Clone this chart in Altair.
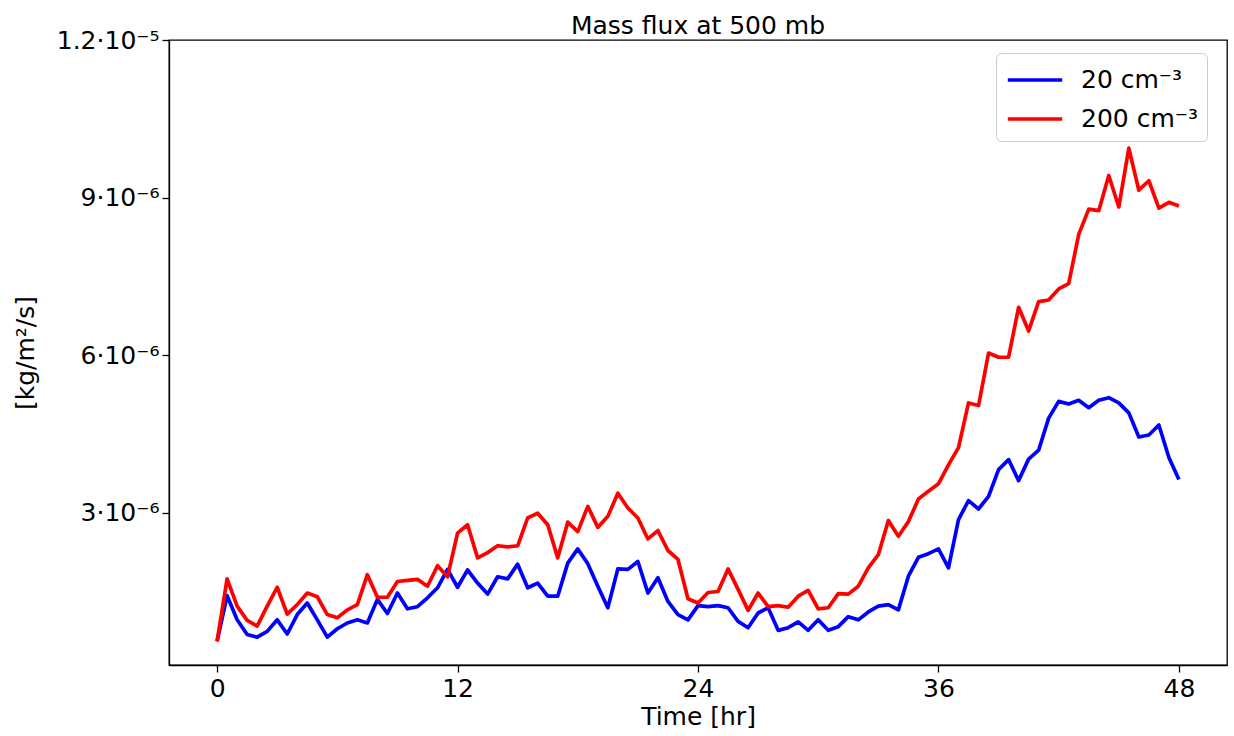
import altair as alt
import pandas as pd

# time axis (hours), one sample every half hour
time_hr = [i * 0.5 for i in range(97)]

series_names = ["20 cm\u207b\u00b3", "200 cm\u207b\u00b3"]
series_colors = ["#0000ff", "#ff0000"]

# mass flux in units of 1e-6 kg/m2/s
flux_20 = [0.55, 1.42, 0.96, 0.68, 0.63, 0.74, 0.96, 0.69, 1.06, 1.28,
           0.96, 0.63, 0.79, 0.90, 0.96, 0.90, 1.35, 1.08, 1.47, 1.17,
           1.21, 1.38, 1.57, 1.92, 1.58, 1.91, 1.66, 1.45, 1.78, 1.74,
           2.02, 1.57, 1.66, 1.41, 1.41, 2.04, 2.31, 2.03, 1.60, 1.19,
           1.93, 1.92, 2.07, 1.47, 1.76, 1.31, 1.06, 0.96, 1.23, 1.21,
           1.23, 1.19, 0.93, 0.81, 1.09, 1.19, 0.76, 0.81, 0.92, 0.76,
           0.96, 0.76, 0.83, 1.02, 0.96, 1.11, 1.22, 1.25, 1.15, 1.79,
           2.15, 2.22, 2.31, 1.95, 2.87, 3.23, 3.07, 3.31, 3.82, 4.01,
           3.61, 4.02, 4.19, 4.80, 5.12, 5.07, 5.14, 5.00, 5.14, 5.19,
           5.09, 4.90, 4.44, 4.48, 4.67, 4.05, 3.63]

flux_200 = [0.55, 1.74, 1.22, 0.95, 0.84, 1.22, 1.58, 1.07, 1.25, 1.47,
            1.40, 1.06, 1.00, 1.15, 1.25, 1.82, 1.39, 1.39, 1.69, 1.71,
            1.73, 1.60, 1.99, 1.78, 2.61, 2.77, 2.14, 2.24, 2.37, 2.35,
            2.37, 2.90, 2.99, 2.77, 2.14, 2.82, 2.64, 3.12, 2.72, 2.93,
            3.37, 3.09, 2.90, 2.50, 2.66, 2.28, 2.11, 1.36, 1.28, 1.48,
            1.50, 1.93, 1.54, 1.14, 1.47, 1.21, 1.23, 1.20, 1.41, 1.52,
            1.17, 1.19, 1.46, 1.45, 1.60, 1.95, 2.20, 2.85, 2.55, 2.83,
            3.26, 3.41, 3.55, 3.91, 4.24, 5.09, 5.04, 6.04, 5.96, 5.96,
            6.91, 6.46, 7.02, 7.05, 7.26, 7.36, 8.30, 8.78, 8.75, 9.42,
            8.82, 9.94, 9.14, 9.32, 8.80, 8.91, 8.84]

x_ticks = [0, 12, 24, 36, 48]
y_ticks = [3, 6, 9, 12]

rows = []
for name, vals in zip(series_names, [flux_20, flux_200]):
    for t, v in zip(time_hr, vals):
        rows.append({"time": t, "flux": v, "series": name})
df = pd.DataFrame(rows)

FONT = "DejaVu Sans"

label_expr = ("datum.value == 12 ? '1.2\u00b710\u207b\u2075' : "
              "datum.value + '\u00b710\u207b\u2076'")

chart = alt.Chart(df).mark_line(strokeWidth=3.7, strokeJoin="round").encode(
    x=alt.X("time:Q",
            scale=alt.Scale(domain=[-2.4, 50.4], nice=False, zero=False),
            axis=alt.Axis(values=x_ticks, title="Time [hr]", grid=False,
                          labelFontSize=25, titleFontSize=25,
                          labelFont=FONT, titleFont=FONT,
                          titleFontWeight="normal", labelColor="black",
                          titleColor="black", tickSize=7, tickWidth=1.3,
                          tickColor="black", domainColor="black",
                          domainWidth=1.3, labelPadding=4, titlePadding=3)),
    y=alt.Y("flux:Q",
            scale=alt.Scale(domain=[0.1, 12], nice=False, zero=False),
            axis=alt.Axis(values=y_ticks, labelExpr=label_expr,
                          title="[kg/m\u00b2/s]", grid=False,
                          labelFontSize=25, titleFontSize=25,
                          labelFont=FONT, titleFont=FONT,
                          titleFontWeight="normal", labelColor="black",
                          titleColor="black", tickSize=7, tickWidth=1.3,
                          tickColor="black", domainColor="black",
                          domainWidth=1.3, labelPadding=3, titlePadding=18)),
    color=alt.Color("series:N",
                    scale=alt.Scale(domain=series_names, range=series_colors),
                    legend=alt.Legend(title=None, orient="none",
                                      legendX=827, legendY=13,
                                      labelFontSize=25, labelFont=FONT,
                                      labelColor="black",
                                      symbolType="M-1.7,0H1.7",
                                      symbolSize=1024, symbolOffset=12,
                                      symbolStrokeWidth=3.5, labelOffset=28,
                                      rowPadding=8, padding=9,
                                      strokeColor="#cccccc",
                                      fillColor="white", cornerRadius=5)),
).properties(
    width=1058,
    height=625,
    background="white",
    title=alt.TitleParams("Mass flux at 500 mb", fontSize=25, font=FONT,
                          fontWeight="normal", color="black",
                          anchor="middle", offset=6, dy=17),
    autosize=alt.AutoSizeParams(type="none"),
    padding={"left": 169, "top": 40, "right": 7, "bottom": 71},
).configure_view(
    stroke="black", strokeWidth=1.3
)

chart.save("out.html", embed_options={"renderer": "svg", "actions": False})
